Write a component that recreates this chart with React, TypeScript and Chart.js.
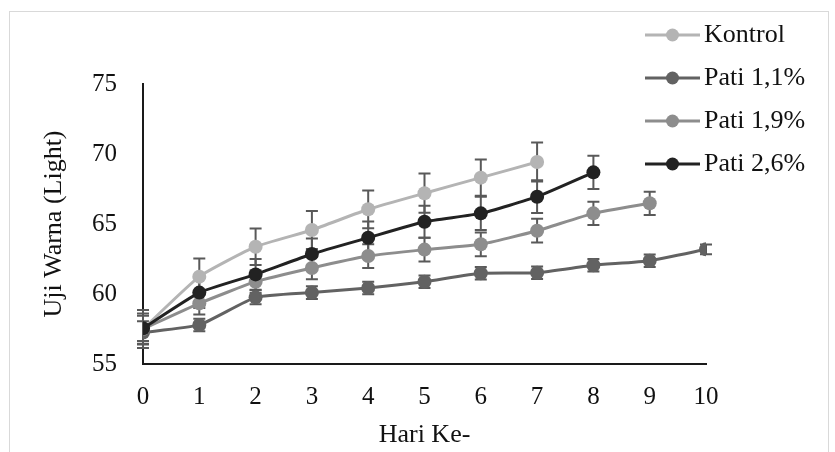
import React, { useEffect, useRef } from "react";
import { Chart, registerables } from "chart.js";

Chart.register(...registerables);

const FONT = "'Liberation Serif', 'Times New Roman', serif";

const days = [0, 1, 2, 3, 4, 5, 6, 7, 8, 9, 10];
const seriesNames = ["Kontrol", "Pati 1,1%", "Pati 1,9%", "Pati 2,6%"];
const seriesColors = ["#b4b4b4", "#626262", "#8d8d8d", "#222222"];

const kontrol = [57.5, 61.24, 63.38, 64.57, 66.05, 67.2, 68.31, 69.43];
const pati11 = [57.25, 57.79, 59.76, 60.1, 60.43, 60.88, 61.48, 61.52, 62.05, 62.38, 63.19];
const pati19 = [57.5, 59.33, 60.88, 61.86, 62.71, 63.17, 63.55, 64.52, 65.76, 66.48];
const pati26 = [57.55, 60.1, 61.4, 62.86, 64.02, 65.16, 65.76, 66.95, 68.69];

const errKontrol = [1.35, 1.3, 1.3, 1.35, 1.35, 1.4, 1.3, 1.4];
const errPati11 = [0.8, 0.45, 0.5, 0.45, 0.45, 0.45, 0.45, 0.45, 0.45, 0.45, 0.35];
const errPati19 = [1.1, 0.8, 0.8, 0.8, 0.85, 0.85, 0.85, 0.85, 0.83, 0.83];
const errPati26 = [0.9, 1.1, 1.1, 1.1, 1.15, 1.15, 1.18, 1.17, 1.19];

const yTicks = [55, 60, 65, 70, 75];
const xTicks = days;

const seriesValues = [kontrol, pati11, pati19, pati26];
const seriesErrors = [errKontrol, errPati11, errPati19, errPati26];

const framePlugin = {
  id: "frame",
  beforeDraw(chart: any) {
    const ctx = chart.ctx;
    ctx.save();
    ctx.fillStyle = "#ffffff";
    ctx.fillRect(0, 0, chart.width, chart.height);
    ctx.strokeStyle = "#d9d9d9";
    ctx.lineWidth = 1;
    ctx.strokeRect(9.5, 11.5, 819, 470);
    ctx.restore();
  },
};

const errorBarPlugin = {
  id: "errorBars",
  beforeDatasetsDraw(chart: any) {
    const { ctx, scales } = chart;
    const xs = scales.x;
    const ys = scales.y;
    ctx.save();
    ctx.strokeStyle = "#595959";
    ctx.lineWidth = 2;
    chart.data.datasets.forEach((ds: any, i: number) => {
      const errs = seriesErrors[i];
      ds.data.forEach((pt: any, j: number) => {
        const e = errs[j];
        if (e == null) return;
        const px = xs.getPixelForValue(pt.x);
        const top = ys.getPixelForValue(pt.y + e);
        const bot = ys.getPixelForValue(pt.y - e);
        ctx.beginPath();
        ctx.moveTo(px, top);
        ctx.lineTo(px, bot);
        ctx.moveTo(px - 6, top);
        ctx.lineTo(px + 6, top);
        ctx.moveTo(px - 6, bot);
        ctx.lineTo(px + 6, bot);
        ctx.stroke();
      });
    });
    ctx.restore();
  },
};

const legendPlugin = {
  id: "customLegend",
  afterDraw(chart: any) {
    const ctx = chart.ctx;
    ctx.save();
    const x0 = 645;
    const x1 = 700;
    const rowY0 = 35;
    const gap = 43;
    seriesNames.forEach((name, i) => {
      const y = rowY0 + i * gap;
      ctx.strokeStyle = seriesColors[i];
      ctx.lineWidth = 3;
      ctx.beginPath();
      ctx.moveTo(x0, y);
      ctx.lineTo(x1, y);
      ctx.stroke();
      ctx.fillStyle = seriesColors[i];
      ctx.beginPath();
      ctx.arc((x0 + x1) / 2, y, 6.5, 0, Math.PI * 2);
      ctx.fill();
      ctx.fillStyle = "#111111";
      ctx.font = `26px ${FONT}`;
      ctx.textAlign = "left";
      ctx.textBaseline = "middle";
      ctx.fillText(name, 704, y);
    });
    ctx.restore();
  },
};

export default function App() {
  const canvasRef = useRef<HTMLCanvasElement | null>(null);

  useEffect(() => {
    const canvas = canvasRef.current;
    if (!canvas) return;
    const datasets = seriesValues.map((vals, i) => ({
      label: seriesNames[i],
      data: vals.map((v, j) => ({ x: days[j], y: v })),
      borderColor: seriesColors[i],
      backgroundColor: seriesColors[i],
      pointBackgroundColor: seriesColors[i],
      pointBorderColor: seriesColors[i],
      pointBorderWidth: 0,
      pointRadius: 7,
      borderWidth: 3,
      tension: 0.15,
      order: 4 - i,
    }));

    const chart = new Chart(canvas, {
      type: "line",
      data: { datasets },
      plugins: [framePlugin, errorBarPlugin, legendPlugin],
      options: {
        animation: false,
        responsive: false,
        maintainAspectRatio: false,
        layout: { padding: { left: 10, top: 84, right: 129, bottom: 0 } },
        plugins: {
          legend: { display: false },
          tooltip: { enabled: false },
        },
        scales: {
          x: {
            type: "linear",
            min: 0,
            max: 10,
            afterBuildTicks: (s: any) => {
              s.ticks = xTicks.map((v) => ({ value: v }));
            },
            afterFit: (s: any) => {
              s.height = 88;
            },
            grid: { display: false, drawTicks: false },
            border: { display: true, color: "#1a1a1a", width: 2 },
            ticks: {
              padding: 18,
              color: "#111111",
              font: { family: FONT, size: 25 },
              autoSkip: false,
              maxRotation: 0,
            },
            title: {
              display: true,
              text: "Hari Ke-",
              color: "#111111",
              font: { family: FONT, size: 26 },
              padding: { top: 0, bottom: 1 },
            },
          },
          y: {
            type: "linear",
            min: 55,
            max: 75,
            afterBuildTicks: (s: any) => {
              s.ticks = yTicks.map((v) => ({ value: v }));
            },
            afterFit: (s: any) => {
              s.width = 133;
            },
            grid: { display: false, drawTicks: false },
            border: { display: true, color: "#1a1a1a", width: 2 },
            ticks: {
              padding: 26,
              color: "#111111",
              font: { family: FONT, size: 25 },
            },
            title: {
              display: true,
              text: "Uji Warna (Light)",
              color: "#111111",
              font: { family: FONT, size: 26 },
              padding: { top: 29, bottom: 0 },
            },
          },
        },
      } as any,
    });
    return () => chart.destroy();
  }, []);

  return (
    <div style={{ position: "fixed", left: 0, top: 0, width: 835, height: 452, background: "#fff" }}>
      <canvas ref={canvasRef} width={835} height={452} style={{ display: "block" }} />
    </div>
  );
}
